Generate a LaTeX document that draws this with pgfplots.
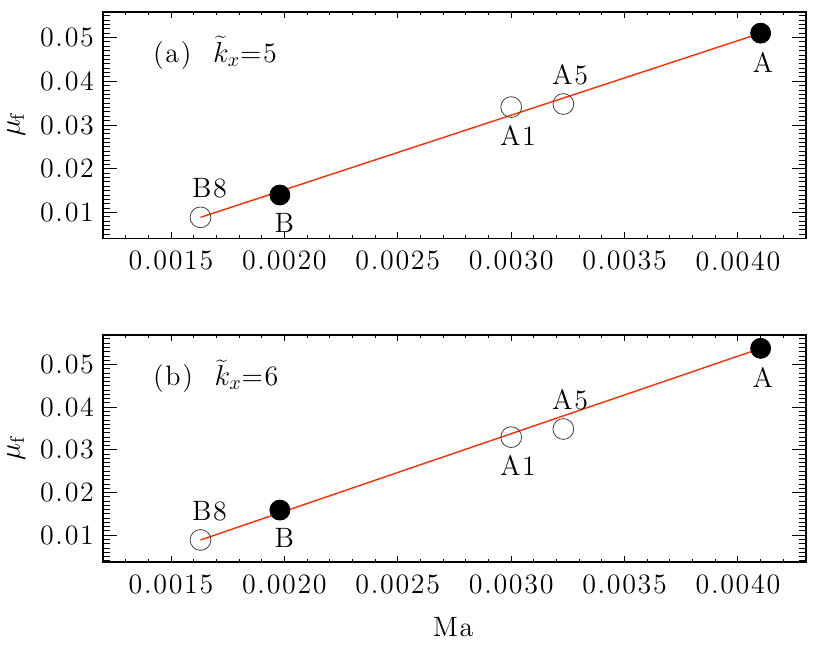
\documentclass[border=0pt]{standalone}
\usepackage{fontspec}
\usepackage{pgfplots}
\pgfplotsset{compat=1.18}

\newfontfamily\idlfont{Latin Modern Roman}[LetterSpace=6]
\definecolor{fitred}{RGB}{255,45,0}

\pgfplotsset{
  panel/.style={
    scale only axis, width=351.5pt, height=113.3pt,
    font=\idlfont\fontsize{14}{16}\selectfont,
    axis line style={line width=0.8pt},
    xmin=0.0012, xmax=0.0043,
    xtick={0.0015,0.0020,0.0025,0.0030,0.0035,0.0040},
    minor xtick={0.0012,0.0013,0.0014,0.0016,0.0017,0.0018,0.0019,0.0021,0.0022,0.0023,0.0024,
                 0.0026,0.0027,0.0028,0.0029,0.0031,0.0032,0.0033,0.0034,0.0036,0.0037,0.0038,
                 0.0039,0.0041,0.0042,0.0043},
    ytick={0.01,0.02,0.03,0.04,0.05},
    minor ytick={0.004,0.005,...,0.057},
    tick align=inside, tick pos=both,
    xtick style={/pgfplots/major tick length=3pt, /pgfplots/minor tick length=1.5pt, line width=0.5pt, black},
    ytick style={/pgfplots/major tick length=7pt, /pgfplots/minor tick length=3.5pt, line width=0.5pt, black},
    scaled x ticks=false, scaled y ticks=false,
    /pgf/number format/assume math mode=true,
    xticklabel style={/pgf/number format/fixed, /pgf/number format/fixed zerofill,
                      /pgf/number format/precision=4, yshift=-3pt},
    yticklabel style={/pgf/number format/fixed, /pgf/number format/fixed zerofill,
                      /pgf/number format/precision=2, xshift=-1pt},
    ylabel={$\mu_{\mathrm{f}}$},
    every axis y label/.style={at={(axis description cs:-0.1235,0.5)}, anchor=center, rotate=90},
    clip=false,
  },
  opencirc/.style={only marks, mark=o, mark size=5.2pt, mark options={line width=0.4pt, draw=black!75}},
  fullcirc/.style={only marks, mark=*, mark size=5pt, mark options={fill=black, draw=black}},
  fitline/.style={fitred, line width=0.7pt, no marks},
}

\begin{document}
\begin{tikzpicture}
\useasboundingbox (-51.5pt,-203.35pt) rectangle (363.5pt,119.15pt);

% (a) kx = 5
\begin{axis}[panel, at={(0,0)}, ymin=0.0041, ymax=0.0559]
\addplot[fitline] coordinates {(0.00163,0.0089) (0.0041,0.0510)};
\addplot[opencirc] coordinates {(0.00163,0.0089) (0.0030,0.0341) (0.00323,0.0348)};
\addplot[fullcirc] coordinates {(0.00198,0.0140) (0.0041,0.0510)};
\node at (axis cs:0.00167,0.0089) [yshift=14.5pt] {B8};
\node at (axis cs:0.00200,0.0140) [yshift=-14pt] {B};
\node at (axis cs:0.00303,0.0341) [yshift=-14pt] {A1};
\node at (axis cs:0.00326,0.0348) [yshift=14.5pt] {A5};
\node at (axis cs:0.00411,0.0510) [yshift=-14.5pt] {A};
\node[anchor=west] at (axis description cs:0,1) [xshift=21.5pt, yshift=-20.5pt] {(a)\ \ $\widetilde{k}_x$=5};
\end{axis}

% (b) kx = 6
\begin{axis}[panel, at={(0,-161.7pt)}, ymin=0.0038, ymax=0.0569,
  xlabel={Ma}, xlabel style={at={(axis description cs:0.498,0)}, anchor=center, yshift=-32.5pt}]
\addplot[fitline] coordinates {(0.00163,0.0089) (0.0041,0.0538)};
\addplot[opencirc] coordinates {(0.00163,0.0089) (0.0030,0.0330) (0.00323,0.0349)};
\addplot[fullcirc] coordinates {(0.00198,0.0159) (0.0041,0.0538)};
\node at (axis cs:0.00167,0.0089) [yshift=14.5pt] {B8};
\node at (axis cs:0.00200,0.0159) [yshift=-14pt] {B};
\node at (axis cs:0.00303,0.0330) [yshift=-14pt] {A1};
\node at (axis cs:0.00326,0.0349) [yshift=14.5pt] {A5};
\node at (axis cs:0.00411,0.0538) [yshift=-14.5pt] {A};
\node[anchor=west] at (axis description cs:0,1) [xshift=21.5pt, yshift=-20.5pt] {(b)\ \ $\widetilde{k}_x$=6};
\end{axis}
\end{tikzpicture}
\end{document}
